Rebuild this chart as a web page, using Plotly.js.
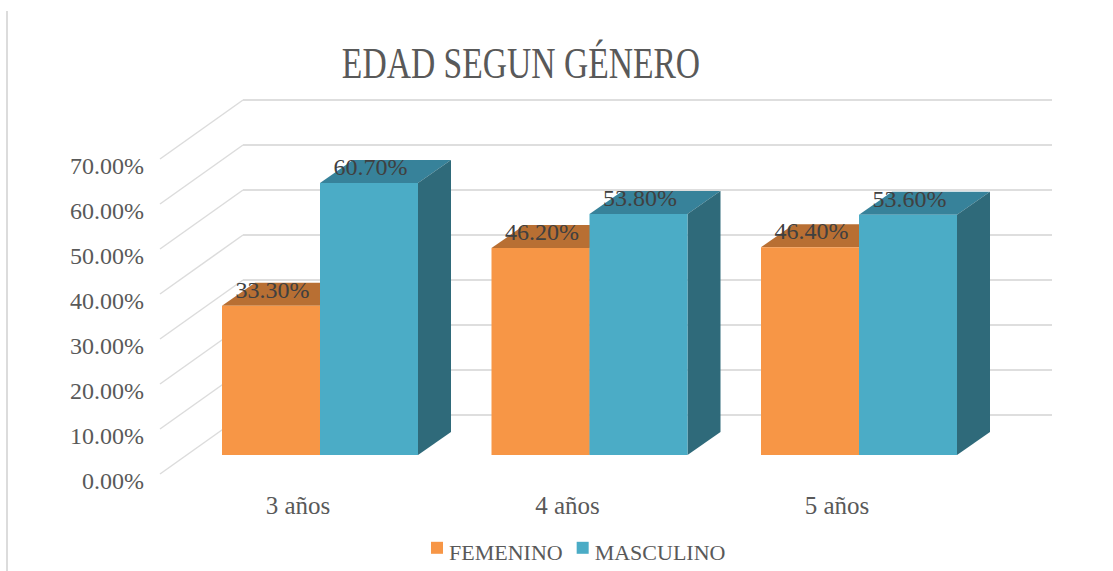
<!DOCTYPE html>
<html>
<head>
<meta charset="utf-8">
<script src="https://cdn.plot.ly/plotly-3.0.1.min.js"></script>
<style>html,body{margin:0;padding:0;background:#fff}#chart{width:1113px;height:571px}</style>
</head>
<body>
<div id="chart"></div>
<script>
const categories = ["3 años", "4 años", "5 años"];
const femenino = [33.3, 46.2, 46.4];
const masculino = [60.7, 53.8, 53.6];
const axisValues = [0, 10, 20, 30, 40, 50, 60, 70];
const chartTitle = "EDAD SEGUN GÉNERO";

const W = 1113, H = 571;
const plot = {l: 150, r: 1070, t: 80, b: 490};
const catStep = 269.5;
const labelPxX = 298, barPxX = 320;
const labelPxY0 = 481, labelScale = 4.5;
const barPxY0 = 455, barScale = 4.48;
const serif = "'Liberation Serif', serif";

const pxToCat = (px) => (px - labelPxX) / catStep;
const lift = (px) => (labelPxY0 - px) / labelScale;
const idx = categories.map((_, i) => i);
const barW = 98 / catStep;
const depthX = 33 / catStep, depthY = 23 / barScale;

const traces = [];
// wall grid: side wall diagonals and back wall lines
const wall = {x: [], y: []}, back = {x: [], y: []};
axisValues.forEach(v => {
  wall.x.push(pxToCat(160), pxToCat(243), null);
  wall.y.push(v + lift(474), v + lift(415), null);
  back.x.push(pxToCat(243), pxToCat(1052), null);
  back.y.push(v + lift(415), v + lift(415), null);
});
traces.push({x: wall.x, y: wall.y, mode: "lines", line: {color: "#dcdcdc", width: 1.5}, showlegend: false, hoverinfo: "skip"});
traces.push({x: back.x, y: back.y, mode: "lines", line: {color: "#dedede", width: 2}, showlegend: false, hoverinfo: "skip"});

function faces(values, side, topColor, sideColor) {
  values.forEach((v, i) => {
    const left = side < 0 ? i - barW : i, right = left + barW;
    traces.push({x: [left, right, right + depthX, left + depthX, left], y: [v, v, v + depthY, v + depthY, v],
      xaxis: "x2", yaxis: "y2", mode: "lines", fill: "toself", fillcolor: topColor, line: {width: 0}, showlegend: false, hoverinfo: "skip"});
    traces.push({x: [right, right + depthX, right + depthX, right, right], y: [0, depthY, v + depthY, v, 0],
      xaxis: "x2", yaxis: "y2", mode: "lines", fill: "toself", fillcolor: sideColor, line: {width: 0}, showlegend: false, hoverinfo: "skip"});
  });
}
faces(femenino, -1, "#B86F33", "#A5632C");
faces(masculino, 1, "#37829A", "#2F6A7A");

traces.push({type: "bar", name: "FEMENINO", x: idx, y: femenino, xaxis: "x3", yaxis: "y3", marker: {color: "#F79646"}});
traces.push({type: "bar", name: "MASCULINO", x: idx, y: masculino, xaxis: "x3", yaxis: "y3", marker: {color: "#4BACC6"}});

const lab = (v) => v.toFixed(2) + "%";
[[femenino, -1], [masculino, 1]].forEach(([vals, s]) => {
  traces.push({x: idx.map(i => i + s * barW / 2 + 1.5 / catStep), y: vals.map(v => v + 2 / barScale), text: vals.map(lab), xaxis: "x3", yaxis: "y3",
    mode: "text", textposition: "top center", textfont: {family: serif, size: 24, color: "#404040"}, showlegend: false, hoverinfo: "skip", cliponaxis: false});
});

const xRange = [(plot.l - labelPxX) / catStep, (plot.r - labelPxX) / catStep];
const xBarRange = [(plot.l - barPxX) / catStep, (plot.r - barPxX) / catStep];
const yRange = [(labelPxY0 - plot.b) / labelScale, (labelPxY0 - plot.t) / labelScale];
const yBarRange = [(barPxY0 - plot.b) / barScale, (barPxY0 - plot.t) / barScale];
const hiddenX = {range: xBarRange, overlaying: "x", visible: false, fixedrange: true};
const hiddenY = {range: yBarRange, overlaying: "y", visible: false, fixedrange: true};

const layout = {
  width: W, height: H, autosize: false,
  paper_bgcolor: "#fff", plot_bgcolor: "rgba(0,0,0,0)",
  margin: {l: plot.l, r: W - plot.r, t: plot.t, b: H - plot.b, pad: 0},
  font: {family: serif, color: "#595959"},
  title: {text: chartTitle, font: {family: serif, size: 33.6, color: "#595959"}, x: 521 / W, xanchor: "center", xref: "container", y: 1 - 64 / H, yanchor: "middle", yref: "container"},
  barmode: "group", bargap: 1 - 2 * barW, bargroupgap: 0,
  xaxis: {range: xRange, tickmode: "array", tickvals: idx, ticktext: categories, showgrid: false, zeroline: false, showline: false, ticks: "", ticklabelstandoff: -2, tickfont: {family: serif, size: 25, color: "#595959"}, fixedrange: true},
  yaxis: {range: yRange, tickmode: "array", tickvals: axisValues, ticktext: axisValues.map(lab), showgrid: false, zeroline: false, showline: false, ticks: "", ticklabelstandoff: 5, tickfont: {family: serif, size: 24, color: "#595959"}, fixedrange: true},
  xaxis2: Object.assign({anchor: "y2"}, hiddenX),
  yaxis2: Object.assign({anchor: "x2"}, hiddenY),
  xaxis3: Object.assign({anchor: "y3"}, hiddenX),
  yaxis3: Object.assign({anchor: "x3"}, hiddenY),
  legend: {orientation: "h", x: 409 / W, xref: "container", xanchor: "left", y: 1 - 531 / H, yref: "container", yanchor: "top", font: {family: serif, size: 22, color: "#595959"}, bgcolor: "rgba(0,0,0,0)", itemclick: false, itemdoubleclick: false},
  shapes: [{type: "line", xref: "paper", yref: "paper", x0: (7 - plot.l) / (plot.r - plot.l), x1: (7 - plot.l) / (plot.r - plot.l), y0: (plot.b - 11) / (plot.b - plot.t), y1: (plot.b - H) / (plot.b - plot.t), line: {color: "#dcdcdc", width: 2}}]
};
Plotly.newPlot("chart", traces, layout, {displayModeBar: false, responsive: false}).then(gd => {
  // the reference's title is stretched vertically; its legend swatches sit tight against the text
  const t = gd.querySelector(".gtitle");
  if (t) {
    const b = parseFloat(t.getAttribute("y"));
    t.setAttribute("transform", `translate(0,63) scale(1,1.3) translate(0,${-b})`);
  }
  gd.querySelectorAll(".legend .legendsymbols").forEach(s => s.setAttribute("transform", "translate(8,-4)"));
  const items = gd.querySelectorAll(".legend .traces");
  if (items[1]) {
    const m = /translate\(([-\d.]+)[ ,]+([-\d.]+)\)/.exec(items[1].getAttribute("transform") || "");
    if (m) items[1].setAttribute("transform", `translate(${parseFloat(m[1]) - 13},${m[2]})`);
  }
});
</script>
</body>
</html>
